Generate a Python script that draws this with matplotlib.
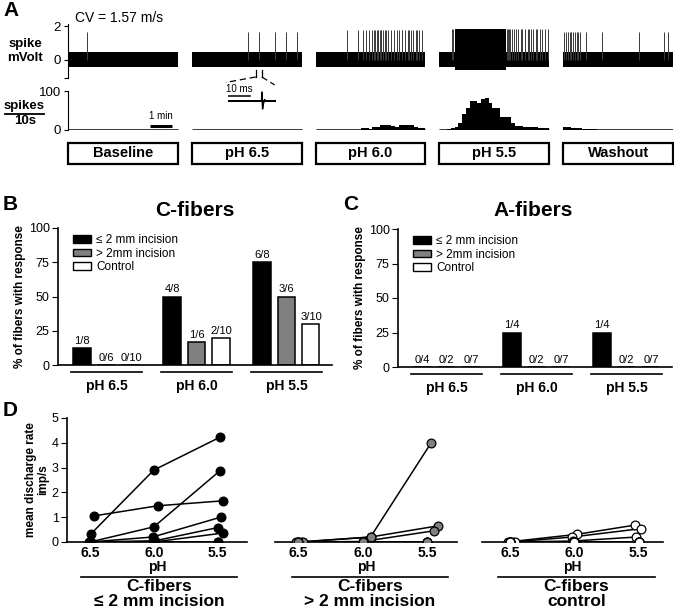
import numpy as np
import matplotlib.pyplot as plt
from matplotlib.patches import Rectangle, Patch

plt.rcParams['font.family'] = ['Liberation Sans', 'DejaVu Sans']

W, H = 674, 612

# ----------------------------------------------------
# Panel A: recording traces (times in s within each segment)
# ----------------------------------------------------
conditions = ["Baseline", "pH 6.5", "pH 6.0", "pH 5.5", "Washout"]
seg_len = 290
seg_gap = 37

spike_times = [
    [49],
    [148, 177, 220, 248, 279],
    [82, 113, 124, 132, 140, 148, 153, 156, 161, 164, 166, 169, 172, 174, 177,
     182, 187, 192, 200, 208, 216, 221, 227, 229, 237, 243, 248, 253, 256,
     264, 269, 274, 282],
    [34, 37, 178, 181, 184, 187, 192, 198, 202, 208,
     215, 219, 227, 233, 237, 242, 248, 255, 259, 266, 272, 280, 286],
    [3, 8, 12, 17, 21, 27, 32, 36, 40, 45, 61, 103, 200, 266, 277],
]
spike_height = [1.65, 1.65, 1.75, 1.8, 1.65]
burst_windows = [None, None, None, (40, 175), None]

# spikes per 10 s bin
rate_baseline = [0, 0, 0, 0, 1, 0, 0, 0, 0, 0, 0, 0, 0, 0, 0, 0, 0, 0, 0, 0,
                 0, 0, 0, 0, 0, 0, 0, 0, 0]
rate_ph65 = [0, 0, 0, 0, 0, 0, 0, 0, 0, 0, 0, 0, 0, 0, 1, 0, 0, 1, 0, 0,
             0, 0, 1, 0, 1, 0, 0, 1, 0]
rate_ph60 = [0, 0, 0, 0, 0, 0, 0, 0, 1, 0, 0, 1, 5, 5, 3, 8, 8, 13, 13, 13,
             10, 7, 12, 12, 12, 12, 8, 4, 4]
rate_ph55 = [0, 0, 2, 6, 8, 17, 42, 57, 74, 74, 70, 79, 83, 70, 57, 57, 34, 34,
             34, 17, 10, 9, 8, 8, 7, 7, 6, 6, 5]
rate_wash = [8, 7, 6, 5, 4, 3, 3, 2, 2, 1, 1, 1, 1, 1, 1, 1, 1, 1, 1, 1,
             1, 1, 1, 1, 1, 1, 1, 1, 1]
rates_10s = [rate_baseline, rate_ph65, rate_ph60, rate_ph55, rate_wash]

# single spike shown in the inset (ms, arbitrary units)
inset_t = [0, 15.2, 15.4, 15.7, 16.1, 16.6, 17.2, 21.8]
inset_v = [0, 0, 9, -8, -3, 1.5, 0, 0]

# ----------------------------------------------------
# Panels B / C: responders per group
# ----------------------------------------------------
ph_groups = ["pH 6.5", "pH 6.0", "pH 5.5"]
legend_labels = ["\u2264 2 mm incision", "> 2mm incision", "Control"]

c_small_n, c_small_tot = [1, 4, 6], 8
c_large_n, c_large_tot = [0, 1, 3], 6
c_ctrl_n, c_ctrl_tot = [0, 2, 3], 10

a_small_n, a_small_tot = [0, 1, 1], 4
a_large_n, a_large_tot = [0, 0, 0], 2
a_ctrl_n, a_ctrl_tot = [0, 0, 0], 7

# ----------------------------------------------------
# Panel D: mean discharge rate per fiber (imp/s)
# ----------------------------------------------------
d_small_rate = [[1.05, 1.46, 1.66], [0.34, 2.9, 4.23], [0.0, 0.61, 2.88],
                [0.0, 0.2, 1.01], [0.0, 0.05, 0.58], [0.0, 0.0, 0.36],
                [0.0, 0.0, 0.0], [0.0, 0.0, 0.0]]
d_small_ph = [[6.47, 5.97, 5.46], [6.49, 6.0, 5.48], [6.5, 6.0, 5.48],
              [6.5, 6.01, 5.47], [6.5, 5.99, 5.5], [6.5, 6.0, 5.46],
              [6.51, 6.0, 5.5], [6.49, 5.99, 5.5]]

d_large_rate = [[0.0, 0.2, 4.0], [0.0, 0.2, 0.65], [0.0, 0.02, 0.45],
                [0.0, 0.0, 0.0], [0.0, 0.0, 0.0], [0.0, 0.0, 0.0]]
d_large_ph = [[6.5, 5.94, 5.47], [6.48, 5.94, 5.42], [6.46, 6.0, 5.45],
              [6.5, 6.0, 5.5], [6.52, 6.0, 5.5], [6.5, 6.0, 5.5]]

d_ctrl_rate = [[0.0, 0.31, 0.68], [0.0, 0.2, 0.54], [0.0, 0.04, 0.2]] + \
              [[0.0, 0.0, 0.0]] * 7
d_ctrl_ph = [[6.52, 5.98, 5.53], [6.48, 6.02, 5.48], [6.46, 6.01, 5.52]] + \
            [[6.5, 6.0, 5.5]] * 7

# ----------------------------------------------------
fig = plt.figure(figsize=(6.74, 6.12), dpi=100)


def box(x0, y0, x1, y1):
    return fig.add_axes([x0 / W, 1 - y1 / H, (x1 - x0) / W, (y1 - y0) / H])


def ftext(x, y, s, **kw):
    kw.setdefault('ha', 'center')
    kw.setdefault('va', 'center')
    fig.text(x / W, 1 - y / H, s, **kw)


starts = [i * (seg_len + seg_gap) for i in range(len(conditions))]
total = starts[-1] + seg_len

# --- traces
ax_tr = box(68, 24, 673, 78)
for i, s0 in enumerate(starts):
    ax_tr.fill_between([s0, s0 + seg_len], -0.42, 0.48, color='black', lw=0)
    ax_tr.vlines(np.array(spike_times[i]) + s0, 0, spike_height[i],
                 color='#3a3a3a', lw=0.7)
    if burst_windows[i]:
        b0, b1 = burst_windows[i]
        ax_tr.fill_between([s0 + b0, s0 + b1], -0.6, spike_height[i],
                           color='black', lw=0)
ax_tr.set_xlim(0, total)
ax_tr.set_ylim(-1.06, 2.12)
ax_tr.set_yticks([-1.06, 0, 2], ['', '0', '2'], fontsize=9.5)
ax_tr.set_xticks([])
for side in ['top', 'right', 'bottom']:
    ax_tr.spines[side].set_visible(False)
ax_tr.tick_params(axis='y', length=3, pad=2)

# zoom marker for the inset spike
sx = starts[1] + spike_times[1][1]
ax_tr.plot([sx - 8, sx - 8], [-0.6, -1.0], color='black', lw=0.9, clip_on=False)
ax_tr.plot([sx + 8, sx + 8], [-0.6, -1.0], color='black', lw=0.9, clip_on=False)
ax_tr.plot([sx - 8, 417], [-1.0, -1.32], color='black', lw=0.9, ls=(0, (5, 3)),
           clip_on=False)
ax_tr.plot([sx + 8, 546], [-1.0, -1.47], color='black', lw=0.9, ls=(0, (5, 3)),
           clip_on=False)

# --- histograms
ax_h = box(68, 91, 673, 130)
for i, s0 in enumerate(starts):
    edges = s0 + np.arange(len(rates_10s[i])) * 10
    ax_h.bar(edges, rates_10s[i], width=10, align='edge', color='black', lw=0)
    ax_h.plot([s0, s0 + seg_len], [0, 0], color='black', lw=1.8,
              solid_capstyle='butt')
ax_h.plot([216, 276], [10, 10], color='black', lw=2.2, solid_capstyle='butt')
ax_h.text(246, 22, "1 min", ha='center', va='bottom', fontsize=7)
ax_h.set_xlim(0, total)
ax_h.set_ylim(0, 100)
ax_h.set_yticks([0, 100], ['0', '100'], fontsize=9.5)
ax_h.set_xticks([])
for side in ['top', 'right', 'bottom']:
    ax_h.spines[side].set_visible(False)
ax_h.tick_params(axis='y', length=3, pad=2)

# --- inset
ax_in = box(228, 84, 276, 112)
ax_in.fill_between([0, 21.8], -1.2, 1.2, color='black', lw=0)
ax_in.plot(inset_t, inset_v, color='black', lw=1.0)
ax_in.plot([0, 10], [5, 5], color='black', lw=1.1)
ax_in.text(5.3, 7.0, "10 ms", ha='center', va='bottom', fontsize=7)
ax_in.set_xlim(0, 21.8)
ax_in.set_ylim(-11, 17)
ax_in.axis('off')

# --- condition boxes
ax_bx = box(68, 142, 673, 165)
for i, s0 in enumerate(starts):
    ax_bx.add_patch(Rectangle((s0, 0.03), seg_len, 0.94, fill=False, lw=1.6,
                              clip_on=False))
    ax_bx.text(s0 + seg_len / 2, 0.5, conditions[i], ha='center', va='center',
               fontsize=10.5, fontweight='bold')
ax_bx.set_xlim(0, total)
ax_bx.set_ylim(0, 1)
ax_bx.axis('off')

ftext(3, 11, "A", ha='left', fontsize=15, fontweight='bold')
ftext(75, 18, "CV = 1.57 m/s", ha='left', fontsize=10)
ftext(25, 51, "spike\nmVolt", fontsize=9.5, fontweight='bold', linespacing=1.15)
ftext(24, 106, "spikes", fontsize=9.5, fontweight='bold')
ftext(25, 121, "10s", fontsize=9.5, fontweight='bold')
fig.add_artist(plt.Line2D([5 / W, 44 / W], [1 - 113.5 / H, 1 - 113.5 / H],
                          color='black', lw=1.3))

# ----------------------------------------------------
# Panels B and C
# ----------------------------------------------------
fills = ['black', '#808080', 'white']
offsets = [-0.272, 0.0, 0.272]


def frac_panel(ax, counts, totals):
    for k in range(3):
        pct = [100 * n / totals[k] for n in counts[k]]
        ax.bar(np.arange(3) + offsets[k], pct, width=0.19, color=fills[k],
               edgecolor='black', lw=1.1, zorder=2)
        for g in range(3):
            ax.annotate(f"{counts[k][g]}/{totals[k]}", (g + offsets[k], pct[g]),
                        xytext=(0, 1.5), textcoords='offset points',
                        ha='center', va='bottom', fontsize=8)
    ax.set_xlim(-0.539, 2.506)
    ax.set_ylim(0, 100)
    ax.set_yticks([0, 25, 50, 75, 100])
    ax.tick_params(axis='y', labelsize=9, length=4, pad=2)
    ax.set_xticks(range(3), ph_groups, fontsize=10, fontweight='bold')
    ax.tick_params(axis='x', length=0, pad=10)
    for side in ['top', 'right']:
        ax.spines[side].set_visible(False)
    for sp in ['left', 'bottom']:
        ax.spines[sp].set_linewidth(1.2)
    for g in range(3):
        ax.plot([g - 0.39, g + 0.39], [-0.05, -0.05], color='black', lw=1.2,
                transform=ax.get_xaxis_transform(), clip_on=False)
    handles = [Patch(facecolor=f, edgecolor='black', lw=1.0) for f in fills]
    ax.legend(handles, legend_labels, loc='upper left',
              bbox_to_anchor=(0.055, 0.955), frameon=False, fontsize=8.5,
              handlelength=1.55, handleheight=0.6, handletextpad=0.4,
              labelspacing=0.12, borderaxespad=0, borderpad=0)
    ax.set_ylabel("% of fibers with response", fontsize=8.5, fontweight='bold')


ax_b = box(58, 228, 332, 365)
frac_panel(ax_b, [c_small_n, c_large_n, c_ctrl_n],
           [c_small_tot, c_large_tot, c_ctrl_tot])
ax_b.yaxis.set_label_coords(-(58 - 26) / 274, 0.5)

ax_c = box(398, 229, 672, 367)
frac_panel(ax_c, [a_small_n, a_large_n, a_ctrl_n],
           [a_small_tot, a_large_tot, a_ctrl_tot])
ax_c.yaxis.set_label_coords(-(398 - 366) / 274, 0.5)

ftext(3, 205, "B", ha='left', fontsize=15, fontweight='bold')
ftext(343, 205, "C", ha='left', fontsize=15, fontweight='bold')
ftext(195, 210, "C-fibers", fontsize=15, fontweight='bold')
ftext(533, 211, "A-fibers", fontsize=15, fontweight='bold')

# ----------------------------------------------------
# Panel D
# ----------------------------------------------------
def rate_panel(ax, rates, phs, face, xlim, show_y):
    for r, x in zip(rates, phs):
        ax.plot(x, r, '-', color='black', lw=1.1, zorder=2)
    for r, x in zip(rates, phs):
        ax.plot(x, r, 'o', ms=6.3, mfc=face, mec='black', mew=0.9, zorder=3)
    ax.set_xlim(*xlim)
    ax.set_ylim(0, 5)
    ax.set_xticks([6.5, 6.0, 5.5], ['6.5', '6.0', '5.5'], fontsize=10,
                  fontweight='bold')
    ax.tick_params(axis='x', length=0, pad=3)
    ax.set_xlabel("pH", fontsize=10, fontweight='bold', labelpad=0)
    for side in ['top', 'right']:
        ax.spines[side].set_visible(False)
    ax.spines['bottom'].set_linewidth(1.2)
    if show_y:
        ax.set_yticks(range(6))
        ax.tick_params(axis='y', labelsize=9, length=4, pad=2)
        ax.spines['left'].set_linewidth(1.2)
    else:
        ax.spines['left'].set_visible(False)
        ax.set_yticks([])


ax_d1 = box(67, 418, 247, 542)
rate_panel(ax_d1, d_small_rate, d_small_ph, 'black', (6.68, 5.27), True)
ax_d2 = box(275, 418, 457, 542)
rate_panel(ax_d2, d_large_rate, d_large_ph, '#808080', (6.68, 5.27), False)
ax_d3 = box(482, 418, 663, 542)
rate_panel(ax_d3, d_ctrl_rate, d_ctrl_ph, 'white', (6.72, 5.31), False)

ftext(3, 411, "D", ha='left', fontsize=15, fontweight='bold')
ftext(37, 480, "mean discharge rate\nimp/s", fontsize=8.5, fontweight='bold',
      rotation=90, linespacing=1.1)

group_names = ["C-fibers\n\u2264 2 mm incision", "C-fibers\n> 2 mm incision",
               "C-fibers\ncontrol"]
under = [(81, 237), (292, 448), (498, 655)]
for name, (u0, u1) in zip(group_names, under):
    fig.add_artist(plt.Line2D([u0 / W, u1 / W], [1 - 577 / H, 1 - 577 / H],
                              color='black', lw=1.2))
    ftext((u0 + u1) / 2, 594, name, fontsize=12.5, fontweight='bold',
          linespacing=0.95)

fig.savefig("out.png", dpi=100)
